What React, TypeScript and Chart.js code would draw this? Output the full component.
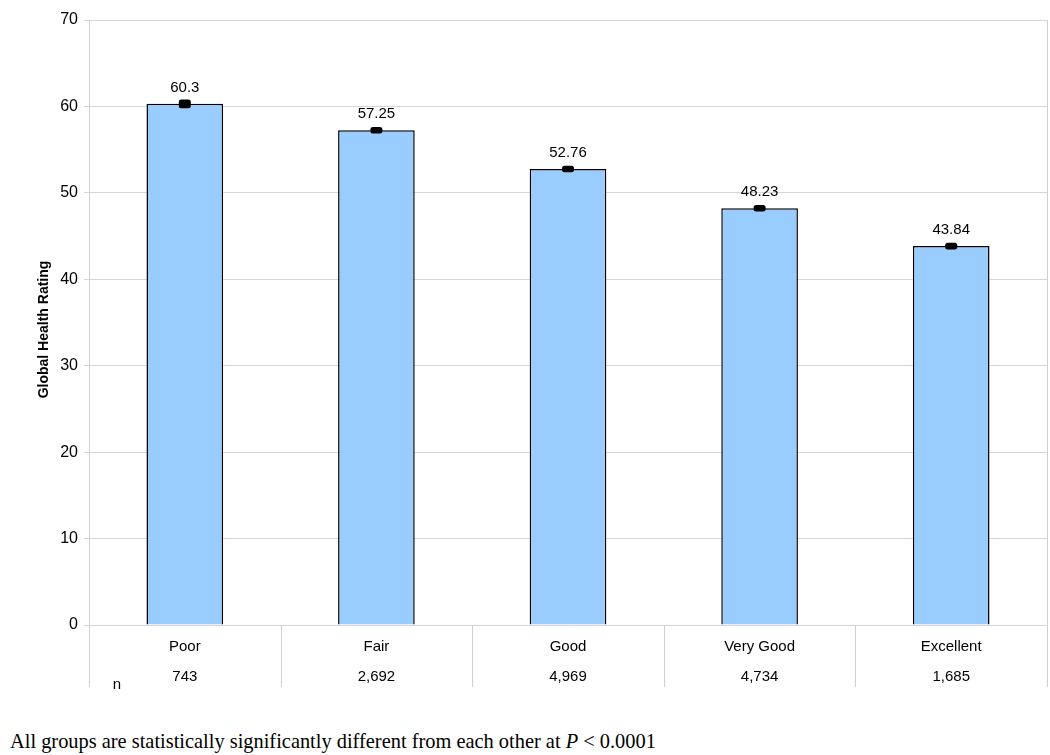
import React, { useEffect, useRef } from "react";
import { Chart, registerables } from "chart.js";

Chart.register(...registerables);

const categories = ["Poor", "Fair", "Good", "Very Good", "Excellent"];
const values = [60.3, 57.25, 52.76, 48.23, 43.84];
const valueLabels = ["60.3", "57.25", "52.76", "48.23", "43.84"];
const errors = [0.5, 0.35, 0.3, 0.3, 0.4];
const counts = ["743", "2,692", "4,969", "4,734", "1,685"];
const yTitle = "Global Health Rating";
const yMin = 0;
const yMax = 70;
const yStep = 10;

const FONT = "Arial, 'Liberation Sans', sans-serif";

const overlayPlugin = {
  id: "overlay",
  afterDatasetsDraw(chart: any) {
    const { ctx } = chart;
    const yScale = chart.scales.y;
    const meta = chart.getDatasetMeta(0);
    ctx.save();
    meta.data.forEach((el: any, i: number) => {
      const x = el.x;
      const yTop = yScale.getPixelForValue(values[i] + errors[i]);
      const yBot = yScale.getPixelForValue(values[i] - errors[i]);
      const w = 12;
      const h = Math.max(yBot - yTop, 6.5);
      const yc = (yTop + yBot) / 2;
      ctx.fillStyle = "#000";
      ctx.beginPath();
      (ctx as any).roundRect(x - w / 2, yc - h / 2, w, h, 2.5);
      ctx.fill();
      ctx.font = `15px ${FONT}`;
      ctx.textAlign = "center";
      ctx.textBaseline = "middle";
      ctx.fillText(valueLabels[i], x, yScale.getPixelForValue(values[i]) - 16);
    });
    ctx.restore();
  },
  afterDraw(chart: any) {
    const { ctx, chartArea } = chart;
    const xScale = chart.scales.x;
    const catW = (chartArea.right - chartArea.left) / categories.length;
    ctx.save();
    ctx.strokeStyle = "#cfcfcf";
    ctx.lineWidth = 1;
    // right border
    ctx.beginPath();
    ctx.moveTo(Math.round(chartArea.right) + 0.5, chartArea.top);
    ctx.lineTo(Math.round(chartArea.right) + 0.5, chartArea.bottom);
    ctx.stroke();
    // category dividers below axis
    for (let i = 0; i <= categories.length; i++) {
      const xp = Math.round(chartArea.left + i * catW) + 0.5;
      ctx.beginPath();
      ctx.moveTo(xp, chartArea.bottom);
      ctx.lineTo(xp, chartArea.bottom + 62);
      ctx.stroke();
    }
    ctx.fillStyle = "#000";
    ctx.font = `15px ${FONT}`;
    ctx.textAlign = "center";
    ctx.textBaseline = "middle";
    categories.forEach((c, i) => {
      const x = xScale.getPixelForValue(i);
      ctx.fillText(c, x, chartArea.bottom + 22);
      ctx.fillText(counts[i], x, chartArea.bottom + 52);
    });
    ctx.fillText("n", chartArea.left + 28, chartArea.bottom + 60);
    // y-axis title
    ctx.translate(44, (chartArea.top + chartArea.bottom) / 2 + 7);
    ctx.rotate(-Math.PI / 2);
    ctx.font = `bold 14px ${FONT}`;
    ctx.fillText(yTitle, 0, 0);
    ctx.restore();
  },
};

export default function App() {
  const canvasRef = useRef<HTMLCanvasElement | null>(null);

  useEffect(() => {
    if (!canvasRef.current) return;
    const chart = new Chart(canvasRef.current, {
      type: "bar",
      data: {
        labels: categories,
        datasets: [
          {
            data: values,
            backgroundColor: "#99ccff",
            borderColor: "#000000",
            borderWidth: 1.5,
            barPercentage: 0.4,
            categoryPercentage: 1,
          },
        ],
      },
      options: {
        responsive: false,
        animation: false,
        layout: { padding: { top: 20, right: 3, bottom: 75, left: 0 } },
        plugins: {
          legend: { display: false },
          tooltip: { enabled: false },
        },
        scales: {
          x: { display: false },
          y: {
            min: yMin,
            max: yMax,
            ticks: {
              stepSize: yStep,
              color: "#000",
              font: { family: FONT, size: 16 },
              padding: 6,
            },
            grid: { color: "#d6d6d6", tickLength: 5 },
            border: { color: "#cfcfcf" },
            afterFit: (scale: any) => {
              scale.width = 89;
            },
          },
        },
      },
      plugins: [overlayPlugin],
    });
    return () => chart.destroy();
  }, []);

  return (
    <div style={{ position: "fixed", left: 0, top: 0, width: 1050, height: 755, background: "#fff" }}>
      <canvas ref={canvasRef} width={1050} height={700} style={{ position: "absolute", left: 0, top: 0 }} />
      <div
        style={{
          position: "absolute",
          left: 10,
          top: 729,
          fontFamily: "'Times New Roman', 'Liberation Serif', serif",
          fontSize: 20.4,
          lineHeight: "24px",
          color: "#000",
          whiteSpace: "nowrap",
        }}
      >
        All groups are statistically significantly different from each other at <i>P</i> &lt; 0.0001
      </div>
    </div>
  );
}
